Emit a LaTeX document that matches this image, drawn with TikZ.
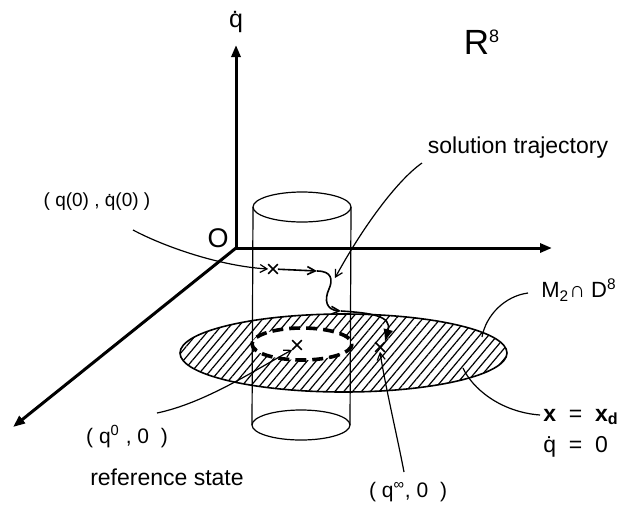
\documentclass[tikz,border=0pt]{standalone}
\usepackage{fontspec}
\setmainfont{Liberation Sans}
\usetikzlibrary{positioning, arrows.meta, shapes.misc, patterns.meta}

\begin{document}
\begin{tikzpicture}[x=0.5pt, y=-0.5pt,
    axis/.style={line width=1.5pt, -{Triangle[length=6pt, width=4.5pt]}},
    thinline/.style={line width=0.6pt},
    ptr/.style={line width=0.6pt, -{Straight Barb[length=3.5pt, width=4pt]}},
    traj/.style={line width=0.8pt},
    xmark/.style={cross out, draw, line width=0.8pt, minimum size=4pt, inner sep=0pt},
    lab/.style={inner sep=0pt, font=\fontsize{11.5}{14}\selectfont}]
  \useasboundingbox (0,0) rectangle (621,505);

  % hatched disc and the reference set in it
  \draw[line width=0.8pt, pattern={Lines[angle=50, distance=3.4pt, line width=0.6pt]}]
    (343.5,353) ellipse [x radius=163.5, y radius=39];
  \draw[fill=white, line width=1.8pt, dash pattern=on 5.5pt off 3pt]
    (302,344) ellipse [x radius=50, y radius=16];

  % cylinder
  \draw[thinline] (302,207) ellipse [x radius=49, y radius=15];
  \draw[thinline] (301,425) ellipse [x radius=49, y radius=15];
  \draw[thinline] (253,207) -- (252,425);
  \draw[thinline] (351,207) -- (350,425);

  % axes
  \coordinate (O) at (236,248);
  \coordinate (qdotend) at (236,45);
  \coordinate (xend) at (552,248);
  \coordinate (zend) at (13,427);
  \draw[axis] (O) -- (qdotend);
  \draw[axis] (O) -- (xend);
  \draw[axis] (O) -- (zend);

  % labels
  \node[lab, font=\fontsize{12.5}{14}\selectfont] (qdot) at (236,22) {\.q};
  \node[lab, font=\fontsize{17.5}{20}\selectfont] (rlab) at (482,42) {R\textsuperscript{\fontsize{9}{10}\selectfont 8}};
  \node[lab] (soltraj) at (518,148) {solution trajectory};
  \node[lab, font=\fontsize{9.5}{11}\selectfont] (initlab) at (97,202) {( q(0) , \.q(0) )};
  \node[lab, font=\fontsize{13.5}{15}\selectfont] (olab) at (218,238) {O};
  \node[lab, font=\fontsize{11}{13}\selectfont] (mdlab) at (579,290) {M\textsubscript{2}∩ D\textsuperscript{8}};
  \node[lab, anchor=west] (xdlab) at (543,417) {\textbf{x} \ = \ \textbf{x}\textsubscript{\bfseries d}};
  \node[lab, anchor=west] (qdzero) at (543,447) {\.q \ = \ 0};
  \node[lab, font=\fontsize{10.5}{12}\selectfont] (reflab) at (127,437) {( q\textsuperscript{0} , 0 \ )};
  \node[lab] (refstate) at (167,477) {reference state};
  \node[lab, font=\fontsize{10.5}{12}\selectfont] (inflab) at (408,492) {( q\textsuperscript{∞}, 0 \ )};

  % states
  \node[xmark] (x0) at (273,269) {};
  \node[xmark] (xref) at (297,345) {};
  \node[xmark] (xinf) at (380,347) {};

  % solution trajectory
  \coordinate (t1) at (317,271);
  \coordinate (t2) at (341,311);
  \draw[traj, -{Straight Barb[length=4pt, width=4pt]}] (x0) -- (t1);
  \draw[traj, -{Straight Barb[length=4pt, width=4pt]}] (t1)
    .. controls (332,271) and (333,280) .. (329,289)
    .. controls (324,300) and (326,310) .. (t2);
  \draw[traj, -{Latex[length=6.5pt, width=5pt]}] (t2)
    .. controls (372,313) and (392,316) .. (xinf.north east);

  % pointers
  \coordinate (initptr) at (133,230);
  \coordinate (solptr) at (422,163);
  \coordinate (refptr) at (157,413);
  \coordinate (infptr) at (404,472);
  \coordinate (mdptr) at (528,293);
  \coordinate (mdend) at (482,337);
  \coordinate (xdptr) at (540,415);
  \coordinate (xdend) at (463,368);
  \draw[ptr] (initptr) .. controls (165,247) and (220,266) .. (x0.west);
  \draw[ptr] (solptr) .. controls (395,182) and (360,232) .. (335,278);
  \draw[ptr] (refptr) .. controls (205,403) and (255,370) .. (xref.south west);
  \draw[ptr] (infptr) .. controls (398,440) and (385,385) .. (xinf.south);
  \draw[thinline] (mdptr) .. controls (505,296) and (486,315) .. (mdend);
  \draw[thinline] (xdptr) .. controls (500,412) and (472,388) .. (xdend);
\end{tikzpicture}
\end{document}
